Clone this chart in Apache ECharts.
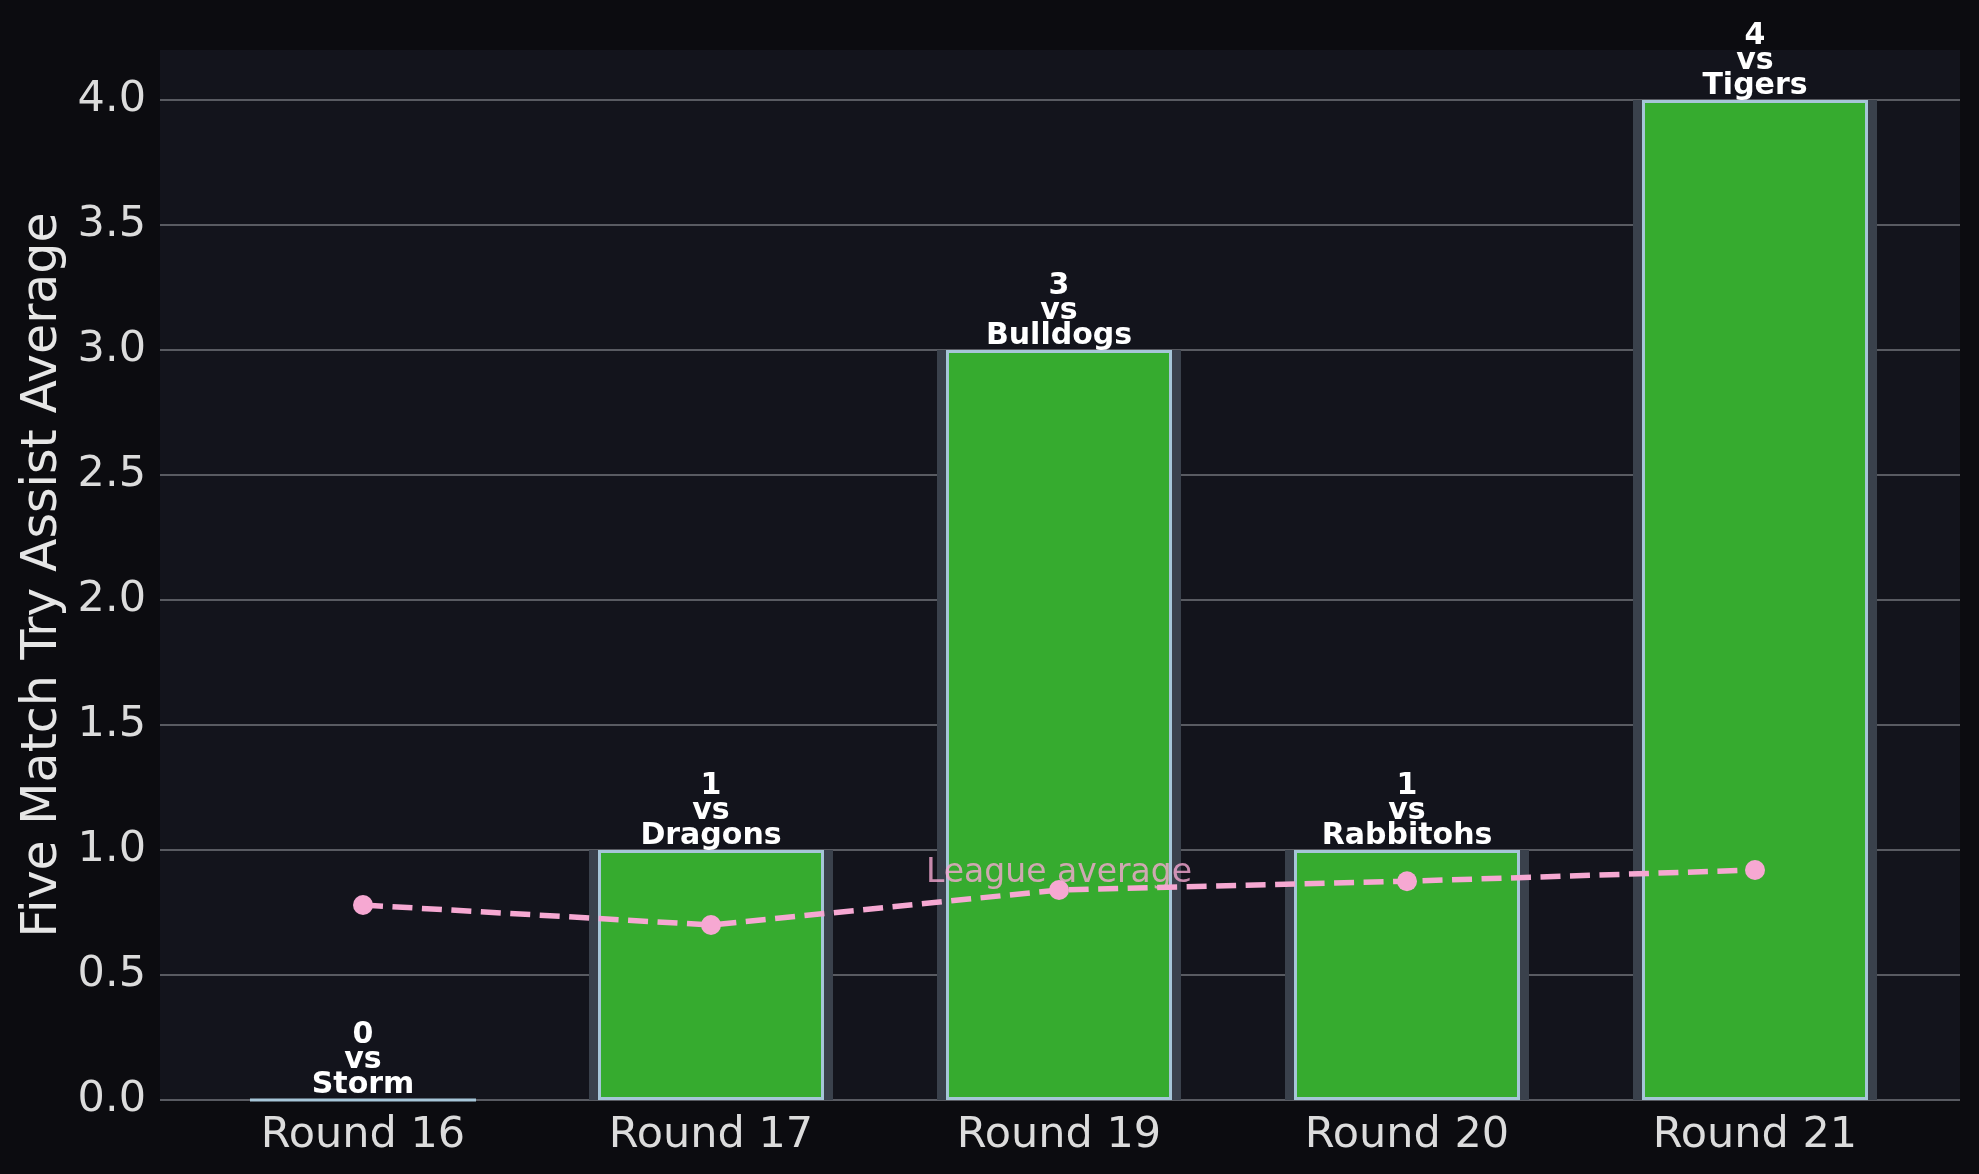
<!DOCTYPE html>
<html>
<head>
<meta charset="utf-8">
<script src="https://cdn.jsdelivr.net/npm/echarts@6/dist/echarts.min.js"></script>
<style>
html,body{margin:0;padding:0;background:#0c0c10;}
#chart{width:1979px;height:1174px;}
</style>
</head>
<body>
<div id="chart"></div>
<script>
const rounds = ['Round 16', 'Round 17', 'Round 19', 'Round 20', 'Round 21'];
const opponents = ['Storm', 'Dragons', 'Bulldogs', 'Rabbitohs', 'Tigers'];
const tryAssists = [0, 1, 3, 1, 4];
const leagueAverage = [0.78, 0.70, 0.84, 0.875, 0.92];
const yTicks = [0, 0.5, 1.0, 1.5, 2.0, 2.5, 3.0, 3.5, 4.0];
const leagueLabelIndex = 2;

const FONT = 'DejaVu Sans';
const chart = echarts.init(document.getElementById('chart'));

const option = {
  backgroundColor: '#0c0c10',
  animation: false,
  grid: [
    { left: 160, right: 19, top: 50, bottom: 74, show: true, backgroundColor: '#13141c', borderWidth: 0 },
    { left: 160, right: 19, top: 100, bottom: 74 },
    { left: 189, right: 50, top: 50, bottom: 74 }
  ],
  xAxis: [
    { gridIndex: 0, type: 'value', min: 0, max: 1, show: false },
    { gridIndex: 1, type: 'value', min: 0, max: 1, show: false },
    {
      gridIndex: 2, type: 'category', data: rounds, boundaryGap: true,
      axisLine: { show: false }, axisTick: { show: false },
      axisLabel: { color: '#dcdcdc', fontSize: 43, fontFamily: FONT, margin: 14 }
    },
    { gridIndex: 2, type: 'category', data: rounds, boundaryGap: true, show: false }
  ],
  yAxis: [
    {
      gridIndex: 0, type: 'value', min: 0, max: 4.2,
      axisLine: { show: false }, axisTick: { show: false }, axisLabel: { show: false },
      splitLine: { show: false },
      name: 'Five Match Try Assist Average', nameLocation: 'middle', nameGap: 92,
      nameTextStyle: { color: '#e6e6e6', fontSize: 49, fontFamily: FONT }
    },
    {
      gridIndex: 1, type: 'value', min: yTicks[0], max: yTicks[yTicks.length - 1], interval: 0.5,
      axisLine: { show: false }, axisTick: { show: false },
      axisLabel: { color: '#dcdcdc', fontSize: 43, fontFamily: FONT, margin: 14,
        formatter: v => v.toFixed(1) },
      splitLine: { show: true, lineStyle: { color: '#595b62', width: 2 } }
    },
    { gridIndex: 2, type: 'value', min: 0, max: 4.2, show: false }
  ],
  series: [
    {
      type: 'bar', xAxisIndex: 3, yAxisIndex: 2, z: 1,
      data: tryAssists, barWidth: 244,
      itemStyle: { color: '#3a414c' }, silent: true
    },
    {
      type: 'bar', xAxisIndex: 2, yAxisIndex: 2, z: 2,
      data: tryAssists, barWidth: 226,
      itemStyle: { color: '#36ab2f', borderColor: '#a6c6d8', borderWidth: 3 },
      label: {
        show: true, position: 'top', distance: 1,
        color: '#ffffff', fontSize: 30, fontWeight: 'bold', fontFamily: FONT, lineHeight: 25,
        formatter: p => p.value + '\nvs\n' + opponents[p.dataIndex]
      }
    },
    {
      type: 'line', xAxisIndex: 2, yAxisIndex: 2, z: 3,
      data: leagueAverage, symbol: 'circle', symbolSize: 20,
      lineStyle: { color: '#f6a8d2', width: 5.5, type: [20, 9.5] },
      itemStyle: { color: '#f6a8d2' }
    },
    {
      type: 'scatter', xAxisIndex: 2, yAxisIndex: 2, z: 4,
      symbolSize: 0,
      data: [[rounds[leagueLabelIndex], leagueAverage[leagueLabelIndex]]],
      label: {
        show: true, position: 'top', distance: 0,
        formatter: 'League average', color: '#f6a8d2', fontSize: 33, fontFamily: FONT
      }
    }
  ]
};
chart.setOption(option);
</script>
</body>
</html>
